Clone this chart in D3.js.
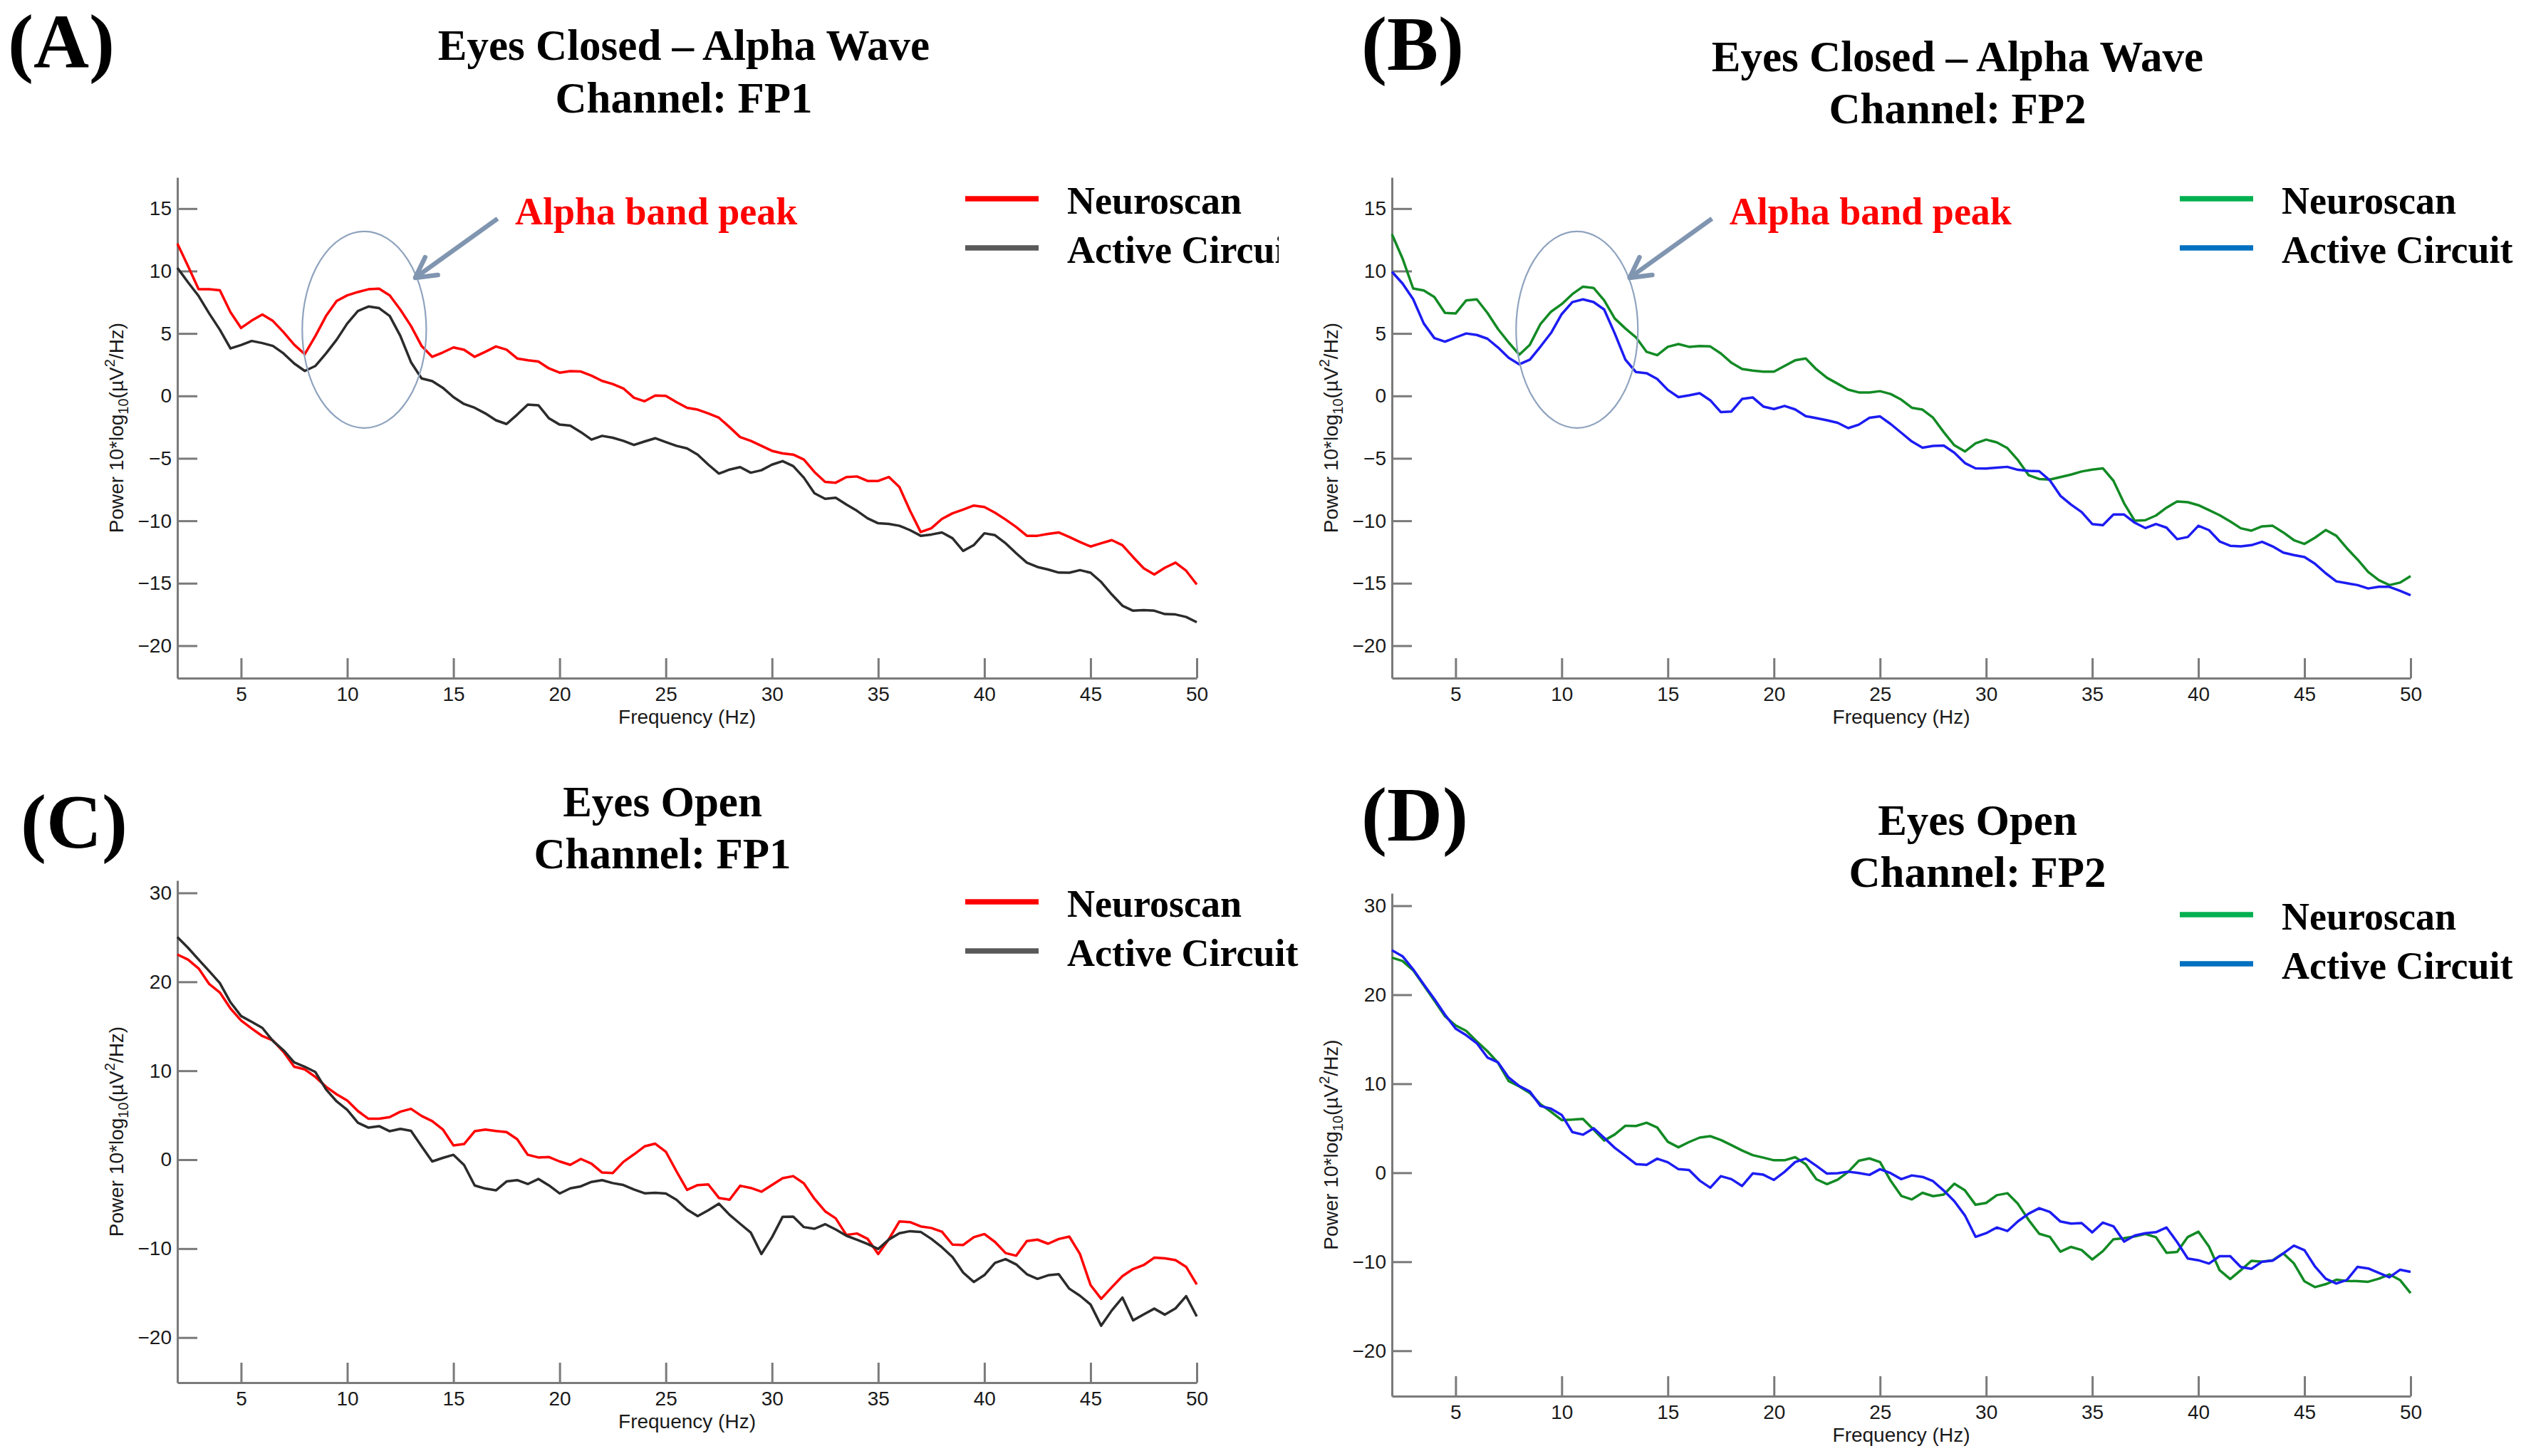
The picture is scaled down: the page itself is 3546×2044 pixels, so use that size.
<!DOCTYPE html>
<html>
<head>
<meta charset="utf-8">
<script src="https://cdn.jsdelivr.net/npm/d3@7"></script>
<style>
  body { margin: 0; background: #fff; }
  svg { display: block; }
</style>
</head>
<body>
<div id="fig"></div>
<script>
// frequency bins (Hz), one value per bin in every series below
const freqs = [
  2, 2.5, 3, 3.5, 4, 4.5, 5, 5.5, 6, 6.5,
  7, 7.5, 8, 8.5, 9, 9.5, 10, 10.5, 11, 11.5,
  12, 12.5, 13, 13.5, 14, 14.5, 15, 15.5, 16, 16.5,
  17, 17.5, 18, 18.5, 19, 19.5, 20, 20.5, 21, 21.5,
  22, 22.5, 23, 23.5, 24, 24.5, 25, 25.5, 26, 26.5,
  27, 27.5, 28, 28.5, 29, 29.5, 30, 30.5, 31, 31.5,
  32, 32.5, 33, 33.5, 34, 34.5, 35, 35.5, 36, 36.5,
  37, 37.5, 38, 38.5, 39, 39.5, 40, 40.5, 41, 41.5,
  42, 42.5, 43, 43.5, 44, 44.5, 45, 45.5, 46, 46.5,
  47, 47.5, 48, 48.5, 49, 49.5, 50
];

const xTicks = [5, 10, 15, 20, 25, 30, 35, 40, 45, 50];
const yTicksClosed = [15, 10, 5, 0, -5, -10, -15, -20];
const yTicksOpen = [30, 20, 10, 0, -10, -20];
const legendLabels = ["Neuroscan", "Active Circuit"];

// (A) eyes closed, FP1
const aNeuro = [
  12.2, 10.4, 8.54, 8.55, 8.46, 6.7, 5.44, 6.03, 6.52, 6.0,
  5.1, 4.1, 3.34, 4.8, 6.4, 7.6, 8.05, 8.32, 8.54, 8.59,
  8.05, 6.9, 5.6, 4.0, 3.13, 3.48, 3.88, 3.7, 3.13, 3.53,
  3.96, 3.7, 3.0, 2.85, 2.75, 2.2, 1.86, 1.99, 1.95, 1.62,
  1.2, 0.95, 0.6, -0.15, -0.43, 0.03, 0.0, -0.5, -0.95, -1.1,
  -1.4, -1.75, -2.5, -3.3, -3.6, -4.0, -4.4, -4.6, -4.7, -5.1,
  -6.1, -6.89, -6.95, -6.5, -6.45, -6.81, -6.81, -6.49, -7.3, -9.2,
  -10.9, -10.6, -9.85, -9.4, -9.1, -8.78, -8.9, -9.35, -9.9, -10.5,
  -11.2, -11.2, -11.05, -10.93, -11.3, -11.7, -12.06, -11.8, -11.55, -11.95,
  -12.9, -13.8, -14.3, -13.76, -13.35, -14.0, -15.1
];
const aActive = [
  10.26, 9.1, 8.0, 6.6, 5.3, 3.8, 4.07, 4.4, 4.23, 4.0,
  3.4, 2.6, 2.0, 2.4, 3.4, 4.5, 5.8, 6.8, 7.16, 7.03,
  6.4, 4.8, 2.7, 1.4, 1.19, 0.65, -0.1, -0.65, -0.95, -1.4,
  -1.95, -2.25, -1.5, -0.7, -0.75, -1.8, -2.3, -2.38, -2.9, -3.5,
  -3.2, -3.35, -3.6, -3.93, -3.65, -3.39, -3.7, -4.0, -4.2, -4.7,
  -5.5, -6.22, -5.9, -5.7, -6.15, -5.95, -5.5, -5.22, -5.62, -6.55,
  -7.8, -8.24, -8.15, -8.7, -9.2, -9.8, -10.2, -10.25, -10.4, -10.75,
  -11.2, -11.1, -10.93, -11.4, -12.41, -11.95, -11.0, -11.15, -11.8, -12.6,
  -13.35, -13.7, -13.9, -14.15, -14.16, -13.95, -14.16, -14.9, -15.9, -16.8,
  -17.2, -17.15, -17.2, -17.47, -17.5, -17.7, -18.12
];

// (B) eyes closed, FP2
const bNeuro = [
  12.95, 11.0, 8.6, 8.45, 7.92, 6.65, 6.6, 7.65, 7.73, 6.65,
  5.35, 4.28, 3.3, 4.1, 5.76, 6.75, 7.35, 8.15, 8.75, 8.65,
  7.65, 6.2, 5.4, 4.69, 3.53, 3.26, 3.93, 4.15, 3.93, 4.0,
  3.96, 3.4, 2.65, 2.15, 2.03, 1.94, 1.94, 2.4, 2.85, 3.0,
  2.13, 1.45, 0.98, 0.5, 0.28, 0.28, 0.38, 0.15, -0.3, -0.95,
  -1.1, -1.75, -2.9, -3.95, -4.45, -3.8, -3.5, -3.72, -4.18, -5.14,
  -6.35, -6.65, -6.7, -6.5, -6.3, -6.05, -5.9, -5.8, -6.8, -8.6,
  -10.0, -9.95, -9.58, -8.95, -8.45, -8.51, -8.75, -9.15, -9.55, -10.05,
  -10.6, -10.79, -10.45, -10.4, -10.93, -11.55, -11.85, -11.35, -10.74, -11.2,
  -12.2, -13.1, -14.1, -14.75, -15.15, -14.95, -14.43
];
const bActive = [
  9.94, 9.0, 7.75, 5.8, 4.63, 4.34, 4.68, 5.0, 4.88, 4.58,
  3.88, 3.05, 2.53, 2.9, 3.95, 5.05, 6.55, 7.51, 7.73, 7.52,
  6.92, 5.0, 2.9, 1.91, 1.82, 1.36, 0.48, -0.1, 0.05, 0.22,
  -0.35, -1.3, -1.25, -0.24, -0.12, -0.85, -1.05, -0.8, -1.08, -1.62,
  -1.78, -1.95, -2.15, -2.58, -2.3, -1.75, -1.64, -2.25, -2.95, -3.65,
  -4.15, -4.0, -3.98, -4.55, -5.38, -5.8, -5.81, -5.75, -5.68, -5.92,
  -6.0, -6.03, -6.76, -8.0, -8.7, -9.3, -10.26, -10.35, -9.5, -9.5,
  -10.15, -10.58, -10.26, -10.55, -11.47, -11.3, -10.4, -10.75, -11.65, -12.0,
  -12.05, -11.95, -11.68, -12.05, -12.55, -12.75, -12.9, -13.45, -14.2, -14.85,
  -15.0, -15.15, -15.42, -15.29, -15.29, -15.6, -15.96
];

// (C) eyes open, FP1
const cNeuro = [
  23.07, 22.5, 21.5, 19.75, 18.8, 17.0, 15.65, 14.75, 13.9, 13.4,
  12.12, 10.45, 10.15, 9.3, 8.2, 7.35, 6.65, 5.47, 4.6, 4.6,
  4.79, 5.4, 5.72, 4.92, 4.34, 3.4, 1.6, 1.76, 3.2, 3.39,
  3.22, 3.1, 2.3, 0.55, 0.25, 0.3, -0.2, -0.58, 0.08, -0.45,
  -1.45, -1.5, -0.25, 0.6, 1.5, 1.8, 0.9, -1.3, -3.4, -2.86,
  -2.78, -4.3, -4.5, -2.93, -3.18, -3.6, -2.85, -2.08, -1.85, -2.66,
  -4.4, -5.8, -6.6, -8.46, -8.3, -8.9, -10.61, -8.95, -6.94, -7.02,
  -7.5, -7.68, -8.1, -9.55, -9.59, -8.72, -8.36, -9.25, -10.5, -10.8,
  -9.15, -8.99, -9.45, -8.92, -8.65, -10.6, -14.1, -15.65, -14.35, -13.1,
  -12.3, -11.85, -11.02, -11.1, -11.3, -12.05, -14.02
];
const cActive = [
  25.04, 23.83, 22.5, 21.2, 19.86, 17.7, 16.15, 15.5, 14.82, 13.35,
  12.3, 10.95, 10.45, 9.85, 7.9, 6.55, 5.6, 4.15, 3.6, 3.77,
  3.2, 3.47, 3.25, 1.5, -0.2, 0.2, 0.55, -0.6, -2.9, -3.25,
  -3.45, -2.45, -2.3, -2.74, -2.17, -2.9, -3.8, -3.22, -3.0, -2.5,
  -2.3, -2.63, -2.85, -3.35, -3.78, -3.72, -3.8, -4.5, -5.6, -6.35,
  -5.69, -4.94, -6.2, -7.21, -8.2, -10.61, -8.72, -6.42, -6.4, -7.58,
  -7.77, -7.25, -7.85, -8.55, -9.0, -9.48, -10.04, -8.98, -8.27, -8.04,
  -8.12, -8.9, -9.85, -10.95, -12.69, -13.75, -12.98, -11.6, -11.18, -11.78,
  -12.88, -13.4, -13.0, -12.88, -14.51, -15.3, -16.29, -18.67, -16.95, -15.5,
  -18.07, -17.4, -16.75, -17.43, -16.72, -15.35, -17.62
];

// (D) eyes open, FP2
const dNeuro = [
  24.17, 23.79, 22.75, 21.05, 19.33, 17.58, 16.55, 15.93, 14.75, 13.65,
  12.35, 10.3, 9.7, 8.95, 7.7, 6.85, 5.92, 5.97, 6.05, 4.85,
  3.62, 4.3, 5.28, 5.25, 5.62, 5.08, 3.48, 2.86, 3.45, 3.95,
  4.11, 3.68, 3.1, 2.5, 1.98, 1.7, 1.4, 1.4, 1.75, 0.95,
  -0.73, -1.28, -0.78, 0.1, 1.35, 1.61, 1.2, -0.9, -2.6, -3.0,
  -2.25, -2.63, -2.45, -1.23, -1.98, -3.6, -3.39, -2.52, -2.3, -3.5,
  -5.3, -6.85, -7.2, -8.87, -8.33, -8.68, -9.74, -8.8, -7.47, -7.36,
  -7.15, -6.87, -7.24, -9.0, -8.9, -7.22, -6.62, -8.3, -10.95, -11.95,
  -10.95, -9.89, -10.0, -9.83, -9.06, -10.18, -12.2, -12.85, -12.52, -12.02,
  -12.15, -12.18, -12.25, -11.9, -11.42, -12.05, -13.53
];
const dActive = [
  25.0, 24.32, 22.85, 21.15, 19.52, 17.75, 16.2, 15.45, 14.55, 12.95,
  12.4, 10.7, 9.75, 9.12, 7.5, 7.2, 6.5, 4.57, 4.28, 5.0,
  3.92, 2.8, 1.9, 0.97, 0.89, 1.58, 1.18, 0.4, 0.3, -0.88,
  -1.68, -0.38, -0.72, -1.49, -0.08, -0.22, -0.81, 0.1, 1.2, 1.6,
  0.78, -0.1, -0.05, 0.12, -0.03, -0.24, 0.4, -0.05, -0.72, -0.3,
  -0.47, -0.95, -2.0, -3.19, -4.8, -7.2, -6.79, -6.15, -6.55, -5.45,
  -4.6, -3.98, -4.4, -5.48, -5.72, -5.65, -6.7, -5.6, -6.02, -7.74,
  -7.05, -6.8, -6.68, -6.15, -7.8, -9.63, -9.83, -10.2, -9.37, -9.37,
  -10.6, -10.8, -10.0, -9.88, -9.06, -8.19, -8.7, -10.55, -11.9, -12.45,
  -12.05, -10.57, -10.75, -11.25, -11.75, -10.9, -11.14
];

const W = 3546, H = 2044;
const serif = "'Liberation Serif', 'Times New Roman', serif";
const sans = "'Liberation Sans', Arial, sans-serif";
const axisGray = "#7a7a7a";

const panels = [
  { tag: "(A)", tagX: 11, tagY: 95, title: ["Eyes Closed \u2013 Alpha Wave", "Channel: FP1"], titleX: 960, titleY: [84, 158],
    left: 249, right: 1680, top: 249, bottom: 952, yDomain: [-22.6, 17.5], yTicks: yTicksClosed,
    series: [aNeuro, aActive], lineColors: ["#ff0000", "#2b2b2b"], legendColors: ["#ff0000", "#595959"],
    clipRight: 1795, peak: { cx: 10.8, cy: 5.3, rx: 2.92, ry: 7.87 } },
  { tag: "(B)", tagX: 1911, tagY: 98, title: ["Eyes Closed \u2013 Alpha Wave", "Channel: FP2"], titleX: 2748, titleY: [100, 173],
    left: 1954, right: 3384, top: 249, bottom: 952, yDomain: [-22.6, 17.5], yTicks: yTicksClosed,
    series: [bNeuro, bActive], lineColors: ["#128a24", "#1c1cf2"], legendColors: ["#00b050", "#0070c0"],
    clipRight: W, peak: { cx: 10.72, cy: 5.3, rx: 2.87, ry: 7.87 } },
  { tag: "(C)", tagX: 29, tagY: 1190, title: ["Eyes Open", "Channel: FP1"], titleX: 930, titleY: [1146, 1219],
    left: 249, right: 1680, top: 1236, bottom: 1941, yDomain: [-25.07, 31.4], yTicks: yTicksOpen,
    series: [cNeuro, cActive], lineColors: ["#ff0000", "#2b2b2b"], legendColors: ["#ff0000", "#595959"],
    clipRight: W, peak: null },
  { tag: "(D)", tagX: 1911, tagY: 1180, title: ["Eyes Open", "Channel: FP2"], titleX: 2776, titleY: [1172, 1245],
    left: 1954, right: 3384, top: 1254, bottom: 1960, yDomain: [-25.1, 31.4], yTicks: yTicksOpen,
    series: [dNeuro, dActive], lineColors: ["#128a24", "#1c1cf2"], legendColors: ["#00b050", "#0070c0"],
    clipRight: W, peak: null }
];

const svg = d3.select("#fig").append("svg")
  .attr("width", W)
  .attr("height", H)
  .style("background", "#fff");

const defs = svg.append("defs");

panels.forEach((p, pi) => {
  const x = d3.scaleLinear().domain([2, 50]).range([p.left, p.right]);
  const y = d3.scaleLinear().domain(p.yDomain).range([p.bottom, p.top]);
  const g = svg.append("g");

  // panel tag and title
  g.append("text")
    .attr("x", p.tagX).attr("y", p.tagY)
    .style("font-family", serif).style("font-weight", "bold").style("font-size", "108px")
    .text(p.tag);
  p.title.forEach((t, i) => {
    g.append("text")
      .attr("x", p.titleX).attr("y", p.titleY[i])
      .attr("text-anchor", "middle")
      .style("font-family", serif).style("font-weight", "bold").style("font-size", "61px")
      .text(t);
  });

  // axes, MATLAB style ticks pointing inward
  const yAxis = d3.axisLeft(y).tickValues(p.yTicks).tickSizeInner(-28).tickSizeOuter(0).tickPadding(8);
  const xAxis = d3.axisBottom(x).tickValues(xTicks).tickSizeInner(-28).tickSizeOuter(0).tickPadding(12);

  const ya = g.append("g").attr("transform", `translate(${p.left},0)`).call(yAxis);
  const xa = g.append("g").attr("transform", `translate(0,${p.bottom})`).call(xAxis);
  [ya, xa].forEach(a => {
    a.select(".domain").attr("stroke", axisGray).attr("stroke-width", 3);
    a.selectAll(".tick line").attr("stroke", axisGray).attr("stroke-width", 3);
    a.selectAll(".tick text")
      .attr("fill", "#1a1a1a")
      .style("font-family", sans).style("font-size", "28px");
  });

  g.append("text")
    .attr("x", (p.left + p.right) / 2).attr("y", p.bottom + 64)
    .attr("text-anchor", "middle")
    .style("font-family", sans).style("font-size", "28px").attr("fill", "#1a1a1a")
    .text("Frequency (Hz)");

  const yl = g.append("text")
    .attr("transform", `translate(${p.left - 76},${(p.top + p.bottom) / 2}) rotate(-90)`)
    .attr("text-anchor", "middle")
    .style("font-family", sans).style("font-size", "28px").attr("fill", "#1a1a1a");
  yl.append("tspan").text("Power 10*log");
  yl.append("tspan").attr("dy", 7).style("font-size", "20px").text("10");
  yl.append("tspan").attr("dy", -7).text("(\u00b5V");
  yl.append("tspan").attr("dy", -12).style("font-size", "20px").text("2");
  yl.append("tspan").attr("dy", 12).text("/Hz)");

  // spectra
  const line = d3.line()
    .x((d, i) => x(freqs[i]))
    .y(d => y(d));
  p.series.forEach((s, si) => {
    g.append("path")
      .datum(s)
      .attr("fill", "none")
      .attr("stroke", p.lineColors[si])
      .attr("stroke-width", 3.5)
      .attr("stroke-linejoin", "round")
      .attr("d", line);
  });

  // legend (panel A's second label is cut off by panel B in the original)
  defs.append("clipPath").attr("id", "clip" + pi)
    .append("rect").attr("x", 0).attr("y", 0).attr("width", p.clipRight).attr("height", H);
  const lg = g.append("g").attr("clip-path", `url(#clip${pi})`);
  legendLabels.forEach((lab, i) => {
    const ly = p.top + 30 + i * 69;
    lg.append("line")
      .attr("x1", p.left + 1106).attr("x2", p.left + 1209)
      .attr("y1", ly).attr("y2", ly)
      .attr("stroke", p.legendColors[i]).attr("stroke-width", 7.5);
    lg.append("text")
      .attr("x", p.left + 1249).attr("y", ly + 21)
      .style("font-family", serif).style("font-weight", "bold").style("font-size", "54px")
      .text(lab);
  });

  // alpha peak annotation
  if (p.peak) {
    const pk = p.peak;
    g.append("ellipse")
      .attr("cx", x(pk.cx)).attr("cy", y(pk.cy))
      .attr("rx", x(pk.cx + pk.rx) - x(pk.cx))
      .attr("ry", y(pk.cy) - y(pk.cy + pk.ry))
      .attr("fill", "none").attr("stroke", "#8fa3be").attr("stroke-width", 2.2);

    const tail = [x(17.08), y(14.2)], tip = [x(13.2), y(9.46)];
    const arrowColor = "#8095b0";
    g.append("line")
      .attr("x1", tail[0]).attr("y1", tail[1]).attr("x2", tip[0]).attr("y2", tip[1])
      .attr("stroke", arrowColor).attr("stroke-width", 6.5);
    const ang = Math.atan2(tail[1] - tip[1], tail[0] - tip[0]);
    const arm = a => [tip[0] + 32 * Math.cos(ang + a), tip[1] + 32 * Math.sin(ang + a)];
    g.append("path")
      .attr("d", d3.line()([arm(0.5), tip, arm(-0.5)]))
      .attr("fill", "none").attr("stroke", arrowColor).attr("stroke-width", 6.5)
      .attr("stroke-linejoin", "round").attr("stroke-linecap", "round");

    g.append("text")
      .attr("x", x(17.9)).attr("y", y(13.73))
      .attr("fill", "#ff0000")
      .style("font-family", serif).style("font-weight", "bold").style("font-size", "54px")
      .text("Alpha band peak");
  }
});
</script>
</body>
</html>
